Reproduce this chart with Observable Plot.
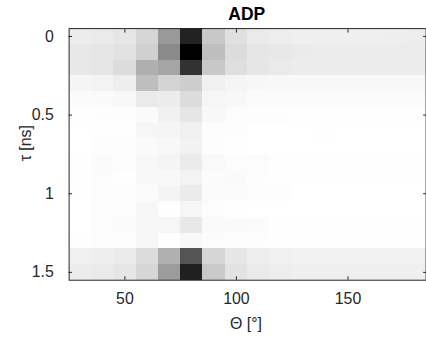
<!DOCTYPE html>
<html><head><meta charset="utf-8">
<script src="https://cdn.jsdelivr.net/npm/d3@7"></script>
<script src="https://cdn.jsdelivr.net/npm/@observablehq/plot@0.6"></script>
<style>
html,body{margin:0;padding:0;background:#fff;overflow:hidden}
#chart{width:426px;height:339px;overflow:hidden}
</style></head><body><div id="chart"></div>
<script>
const title = "ADP";
const xLabel = "Θ [°]";
const yLabel = "τ [ns]";
const theta = [30,40,50,60,70,80,90,100,110,120,130,140,150,160,170,180];
const tau = [0,0.1,0.2,0.3,0.4,0.5,0.6,0.7,0.8,0.9,1.0,1.1,1.2,1.3,1.4,1.5];
const xTicks = [50,100,150];
const yTicks = [0,0.5,1,1.5];
// ADP intensity (0 = white, 255 = black), one row per tau
const adpRows = [
  [19,21,25,41,102,221,55,31,21,18,16,16,16,16,17,18],
  [23,25,29,47,117,255,65,35,25,23,20,19,19,19,19,19],
  [23,25,35,80,90,205,55,33,25,21,19,19,19,19,19,19],
  [10,12,17,65,43,50,15,10,8,7,7,7,7,7,7,7],
  [4,5,7,21,19,35,9,7,4,4,4,4,4,4,4,4],
  [1,2,2,5,15,25,7,3,2,2,1,1,1,1,1,1],
  [0,1,1,9,10,15,3,2,0,0,0,1,0,0,0,0],
  [0,2,2,5,7,13,2,1,0,0,0,0,0,0,0,0],
  [1,4,3,7,10,20,6,3,3,1,1,1,1,1,1,1],
  [1,3,1,7,7,12,4,5,2,1,1,1,1,1,1,1],
  [1,3,3,4,11,20,4,4,2,2,0,0,0,0,0,0],
  [0,3,3,8,1,9,3,1,0,0,0,0,0,0,0,0],
  [0,3,4,9,9,23,5,5,4,1,1,1,1,1,1,1],
  [1,3,3,9,1,7,3,2,2,1,1,1,1,1,1,1],
  [15,17,20,35,79,171,41,25,18,15,13,13,13,13,13,13],
  [19,21,25,41,99,223,54,29,21,18,16,16,16,16,16,16]
];
const dTheta = 10, dTau = 0.1;
const tick = 3.5;
const cells = [];
tau.forEach((t, i) => theta.forEach((th, j) => cells.push({theta: th, tau: t, v: adpRows[i][j]})));

const plot = Plot.plot({
  width: 429, height: 339,
  marginLeft: 69.1, marginRight: 0.4, marginTop: 28.3, marginBottom: 57.3,
  style: {fontFamily: "'Liberation Sans', Arial, sans-serif", fontSize: "16px", color: "#262626", background: "white"},
  x: {domain: [25, 185]},
  y: {domain: [-0.05, 1.55], reverse: true},
  color: {type: "linear", domain: [0, 255], range: ["#ffffff", "#000000"]},
  marks: [
    Plot.rect(cells, {
      x1: d => d.theta - dTheta / 2, x2: d => d.theta + dTheta / 2,
      y1: d => d.tau - dTau / 2, y2: d => d.tau + dTau / 2,
      fill: "v", shapeRendering: "crispEdges"
    }),
    Plot.frame({stroke: "#262626", strokeWidth: 1}),
    Plot.axisX(xTicks, {anchor: "bottom", tickSize: tick, dy: -tick, fill: "none", stroke: "#262626"}),
    Plot.axisX(xTicks, {anchor: "top", tickSize: tick, dy: tick, fill: "none", stroke: "#262626"}),
    Plot.axisY(yTicks, {anchor: "left", tickSize: tick, dx: tick, fill: "none", stroke: "#262626"}),
    Plot.axisY(yTicks, {anchor: "right", tickSize: tick, dx: -tick, fill: "none", stroke: "#262626"}),
    Plot.axisX(xTicks, {anchor: "bottom", tickSize: 0, tickPadding: 13, label: null, fill: "#262626", fontSize: 16}),
    Plot.axisY(yTicks, {anchor: "left", tickSize: 0, tickPadding: 15.5, tickFormat: d => String(d), label: null, fill: "#262626", fontSize: 16}),
    Plot.text([title], {text: d => d, frameAnchor: "top", lineAnchor: "bottom", dy: -8.3, dx: -0.8, fontWeight: "bold", fontSize: 17.6, fill: "black"}),
    Plot.text([xLabel], {text: d => d, frameAnchor: "bottom", lineAnchor: "top", dy: 37.8, dx: -1.6, fontSize: 16, fill: "#262626"}),
    Plot.text([yLabel], {text: d => d, frameAnchor: "left", rotate: -90, dx: -43.5, dy: 7, fontSize: 16, fill: "#262626"})
  ]
});
document.getElementById("chart").appendChild(plot);
</script></body></html>
